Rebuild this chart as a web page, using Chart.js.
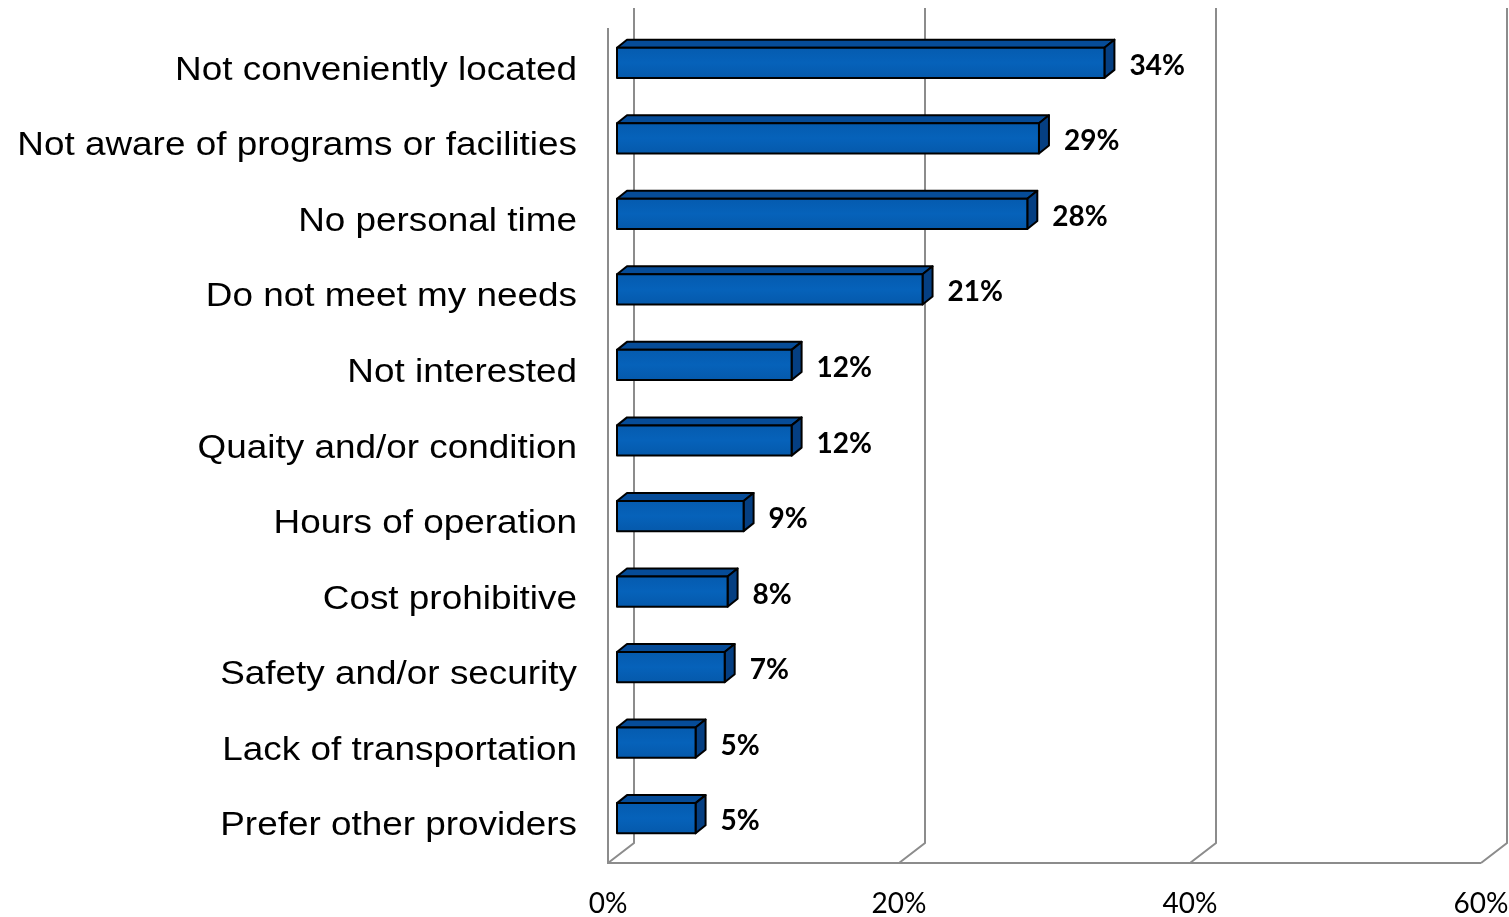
<!DOCTYPE html>
<html>
<head>
<meta charset="utf-8">
<script src="https://cdn.jsdelivr.net/npm/chart.js@4"></script>
<style>
  html, body { margin: 0; padding: 0; background: #fff; }
  #wrap { width: 1509px; height: 917px; position: relative; }
</style>
</head>
<body>
<div id="wrap"><canvas id="chart"></canvas></div>
<script>
const categories = [
    'Not conveniently located',
    'Not aware of programs or facilities',
    'No personal time',
    'Do not meet my needs',
    'Not interested',
    'Quaity and/or condition',
    'Hours of operation',
    'Cost prohibitive',
    'Safety and/or security',
    'Lack of transportation',
    'Prefer other providers'
];
const values = [33.5, 29, 28.2, 21, 12, 12, 8.7, 7.6, 7.4, 5.4, 5.4];
const valueLabels = ['34%', '29%', '28%', '21%', '12%', '12%', '9%', '8%', '7%', '5%', '5%'];
const xTickValues = [0, 20, 40, 60];

// 3d look: walls behind, bars drawn as boxes from the bar elements
const WALL = { dx: 26, dy: -20 };
const BAR_OFF = { dx: 9, dy: -7 };
const BAR_DEPTH = { dx: 10, dy: -8 };

function poly(ctx, pts, fill) {
    ctx.beginPath();
    ctx.moveTo(pts[0][0], pts[0][1]);
    for (let i = 1; i < pts.length; i++) ctx.lineTo(pts[i][0], pts[i][1]);
    ctx.closePath();
    ctx.fillStyle = fill;
    ctx.fill();
    ctx.stroke();
}

const depth3d = {
    id: 'depth3d',
    beforeDatasetsDraw(chart) {
        const { ctx, chartArea: a, scales: { x } } = chart;
        ctx.save();
        ctx.strokeStyle = '#8c8c8c';
        ctx.lineWidth = 2;
        ctx.beginPath();
        ctx.moveTo(a.left, a.top - 4);
        ctx.lineTo(a.left, a.bottom);
        ctx.lineTo(x.getPixelForValue(60), a.bottom);
        xTickValues.forEach(v => {
            const px = x.getPixelForValue(v);
            ctx.moveTo(px, a.bottom);
            ctx.lineTo(px + WALL.dx, a.bottom + WALL.dy);
            ctx.lineTo(px + WALL.dx, a.top + WALL.dy - 4);
        });
        ctx.stroke();
        ctx.restore();
    },
    afterDatasetsDraw(chart) {
        const { ctx } = chart;
        const meta = chart.getDatasetMeta(0);
        ctx.save();
        ctx.strokeStyle = '#000';
        ctx.lineWidth = 2;
        ctx.lineJoin = 'round';
        meta.data.forEach((el, i) => {
            const p = el.getProps(['x', 'y', 'base', 'height'], true);
            const x0 = p.base + BAR_OFF.dx, x1 = p.x + BAR_OFF.dx;
            const y0 = p.y - p.height / 2 + BAR_OFF.dy, y1 = p.y + p.height / 2 + BAR_OFF.dy;
            const dx = BAR_DEPTH.dx, dy = BAR_DEPTH.dy;
            poly(ctx, [[x0, y0], [x0 + dx, y0 + dy], [x1 + dx, y0 + dy], [x1, y0]], '#064C98');
            poly(ctx, [[x1, y0], [x1 + dx, y0 + dy], [x1 + dx, y1 + dy], [x1, y1]], '#053F82');
            const g = ctx.createLinearGradient(0, y0, 0, y1);
            g.addColorStop(0, '#055BAF');
            g.addColorStop(0.5, '#0662BA');
            g.addColorStop(1, '#0559AB');
            poly(ctx, [[x0, y0], [x1, y0], [x1, y1], [x0, y1]], g);

            ctx.fillStyle = '#000';
            ctx.font = 'bold 28px Lato, "Open Sans", sans-serif';
            ctx.textAlign = 'left';
            ctx.textBaseline = 'middle';
            ctx.fillText(valueLabels[i], p.x + 34, p.y + BAR_OFF.dy + 3);
        });
        ctx.restore();
    },
    afterDraw(chart) {
        const { ctx, chartArea: a, scales: { y } } = chart;
        ctx.save();
        ctx.fillStyle = '#000';
        ctx.font = '34px "Liberation Sans", Arial, sans-serif';
        ctx.textAlign = 'right';
        ctx.textBaseline = 'alphabetic';
        categories.forEach((label, i) => {
            ctx.save();
            ctx.translate(a.left - 31, y.getPixelForValue(i) + 10);
            ctx.scale(1.085, 1);
            ctx.fillText(label, 0, 0);
            ctx.restore();
        });
        ctx.restore();
    }
};

new Chart(document.getElementById('chart'), {
    type: 'bar',
    data: {
        labels: categories,
        datasets: [{
            data: values,
            backgroundColor: 'rgba(0,0,0,0)',
            borderWidth: 0,
            barPercentage: 0.4,
            categoryPercentage: 1
        }]
    },
    options: {
        indexAxis: 'y',
        responsive: true,
        maintainAspectRatio: false,
        animation: false,
        devicePixelRatio: 1,
        layout: { padding: { top: 32, right: 28, left: 0, bottom: 0 } },
        plugins: {
            legend: { display: false },
            tooltip: { enabled: false }
        },
        scales: {
            x: {
                min: 0,
                max: 60,
                afterFit: s => { s.height = 54; s.paddingLeft = 0; s.paddingRight = 0; },
                afterBuildTicks: s => { s.ticks = xTickValues.map(v => ({ value: v })); },
                grid: { display: false, drawTicks: false },
                border: { display: false },
                ticks: {
                    padding: 24,
                    maxRotation: 0,
                    color: '#000',
                    font: { family: 'Lato, "Open Sans", sans-serif', size: 28 },
                    callback: v => v + '%'
                }
            },
            y: {
                afterFit: s => { s.width = 608; },
                grid: { display: false },
                border: { display: false },
                ticks: { display: false }
            }
        }
    },
    plugins: [depth3d]
});
</script>
</body>
</html>
